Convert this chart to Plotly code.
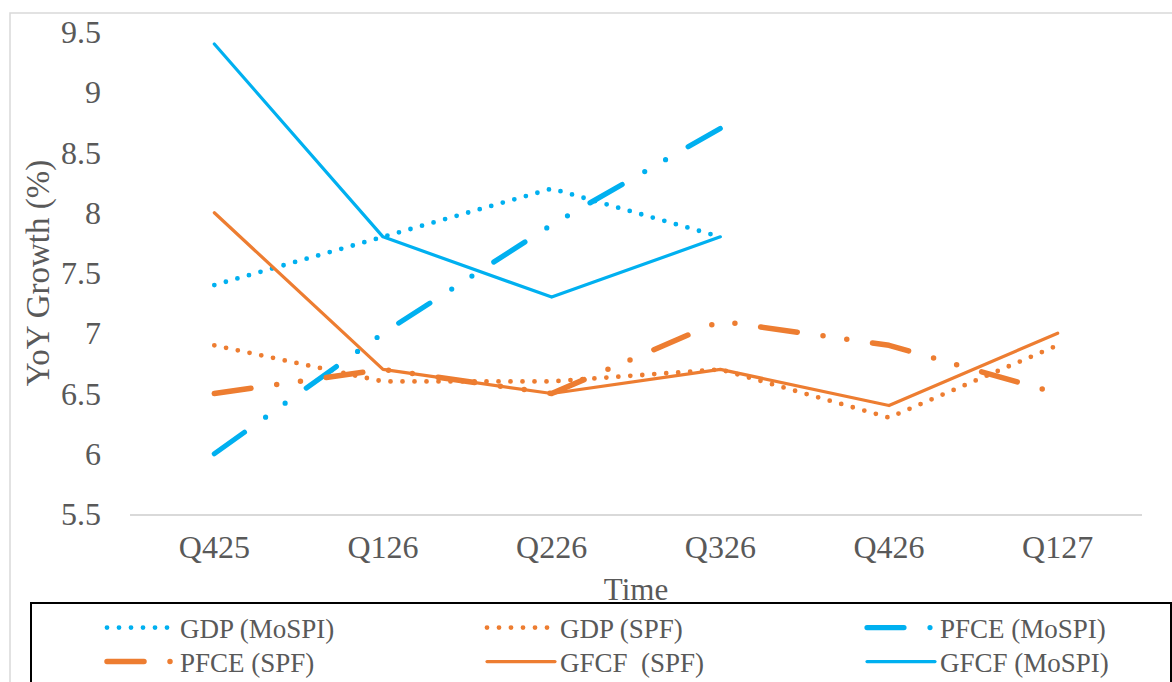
import plotly.graph_objects as go

# Quarters on the x axis
quarters = ["Q425", "Q126", "Q226", "Q326", "Q426", "Q127"]

# YoY growth (%) by series
gdp_mospi = [7.4, 7.8, 8.2, 7.8, None, None]
gdp_spf = [6.9, 6.6, 6.6, 6.7, 6.3, 6.9]
pfce_mospi = [6.0, 7.0, 7.9, 8.7, None, None]
pfce_spf = [6.5, 6.7, 6.5, 7.1, 6.9, 6.5]
gfcf_spf = [8.0, 6.7, 6.5, 6.7, 6.4, 7.0]
gfcf_mospi = [9.4, 7.8, 7.3, 7.8, None, None]

y_ticks = [5.5, 6, 6.5, 7, 7.5, 8, 8.5, 9, 9.5]

BLUE = "#00B0F0"
ORANGE = "#ED7D31"
TEXT = "#595959"
FONT = "Liberation Serif"

DOT = "0px,12px"
DASH_DOT_DOT = "37px,26px,0px,24px,0px,26px"

W, H = 1172, 682
L, R, T, B = 130, 30, 32, 168
PW, PH = W - L - R, H - T - B


def px_x(p):
    return (p - L) / PW


def px_y(p):
    return (H - B - p) / PH


series = [
    ("GDP (MoSPI)", gdp_mospi, BLUE, 4.8, DOT, "legend"),
    ("GDP (SPF)", gdp_spf, ORANGE, 4.8, DOT, "legend"),
    ("PFCE (MoSPI)", pfce_mospi, BLUE, 5.2, DASH_DOT_DOT, "legend"),
    ("PFCE (SPF)", pfce_spf, ORANGE, 5.5, DASH_DOT_DOT, "legend2"),
    ("GFCF  (SPF)", gfcf_spf, ORANGE, 3.2, "solid", "legend2"),
    ("GFCF (MoSPI)", gfcf_mospi, BLUE, 3.2, "solid", "legend2"),
]

fig = go.Figure()
for name, vals, color, width, dash, leg in series:
    fig.add_trace(go.Scatter(
        x=quarters, y=vals, name=name, mode="lines",
        line=dict(color=color, width=width, dash=dash),
        connectgaps=False, legend=leg, hoverinfo="skip",
    ))

ITEM_W = 68
legend_common = dict(
    orientation="h", xanchor="left", yanchor="middle",
    entrywidth=379 - ITEM_W - 14, entrywidthmode="pixels", itemwidth=ITEM_W,
    font=dict(family=FONT, size=27, color=TEXT),
    bgcolor="rgba(0,0,0,0)", borderwidth=0,
    itemclick=False, itemdoubleclick=False,
)

fig.update_layout(
    width=W, height=H,
    margin=dict(l=L, r=R, t=T, b=B, pad=0, autoexpand=False),
    paper_bgcolor="white", plot_bgcolor="white",
    font=dict(family=FONT, color=TEXT),
    showlegend=True,
    legend=dict(x=px_x(102), y=px_y(628), **legend_common),
    legend2=dict(x=px_x(102), y=px_y(662), **legend_common),
    xaxis=dict(
        type="category", range=[-0.5, 5.5],
        showline=True, linecolor="#D9D9D9", linewidth=2,
        showgrid=False, zeroline=False, ticks="",
        tickfont=dict(family=FONT, size=32, color=TEXT),
        ticklabelstandoff=4,
        title=dict(text="Time", font=dict(family=FONT, size=31, color=TEXT), standoff=14),
    ),
    yaxis=dict(
        range=[5.5, 9.5], tickvals=y_ticks,
        ticktext=[f"{v:g}" for v in y_ticks],
        showline=False, showgrid=False, zeroline=False, ticks="",
        tickfont=dict(family=FONT, size=32, color=TEXT),
        ticklabelstandoff=28,
        title=dict(text="YoY Growth (%)", font=dict(family=FONT, size=33, color=TEXT), standoff=1),
    ),
    shapes=[
        # outer chart frame
        dict(type="rect", xref="paper", yref="paper",
             x0=px_x(10), x1=px_x(1180), y0=px_y(700), y1=px_y(13),
             line=dict(color="#D9D9D9", width=1.5), fillcolor="rgba(0,0,0,0)", layer="below"),
        # legend frame
        dict(type="rect", xref="paper", yref="paper",
             x0=px_x(31), x1=px_x(1171), y0=px_y(700), y1=px_y(603),
             line=dict(color="black", width=2), fillcolor="rgba(0,0,0,0)", layer="above"),
    ],
)

round_caps = """
var gd = document.getElementById('{plot_id}');
function roundCaps() {
  gd.querySelectorAll('path.js-line').forEach(function (p) {
    p.style.strokeLinecap = 'round';
    p.style.strokeLinejoin = 'round';
  });
}
roundCaps();
gd.on('plotly_afterplot', roundCaps);
"""

fig.write_html("out.html", post_script=round_caps, config={"displayModeBar": False})
